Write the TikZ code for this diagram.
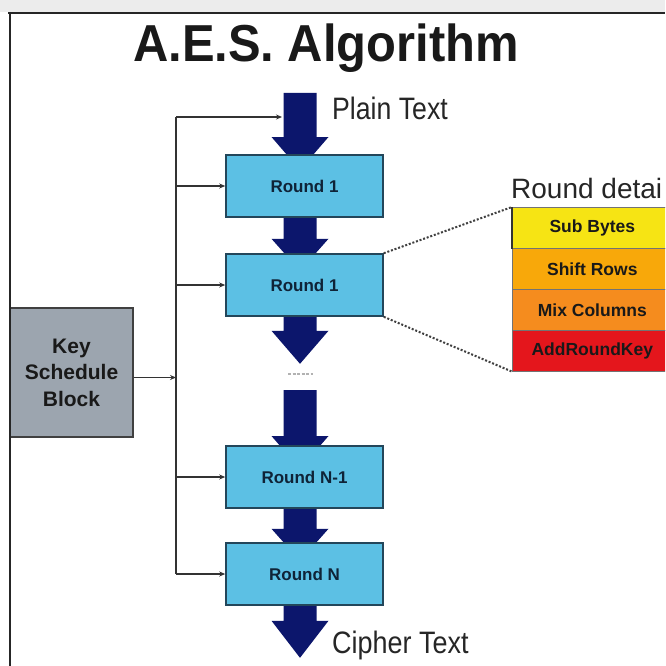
\documentclass[tikz,border=0pt]{standalone}
\usepackage{fontspec}
\setmainfont{Liberation Sans}
\usepackage{graphicx}
\usetikzlibrary{arrows.meta,calc}
\definecolor{navy}{RGB}{12,22,108}
\definecolor{roundfill}{RGB}{92,192,228}
\definecolor{roundline}{RGB}{35,70,90}
\definecolor{roundtext}{RGB}{15,35,55}
\definecolor{keyfill}{RGB}{156,165,175}
\definecolor{subyel}{RGB}{246,228,20}
\definecolor{shiftor}{RGB}{248,168,10}
\definecolor{mixor}{RGB}{245,140,30}
\definecolor{arkred}{RGB}{228,22,28}
\definecolor{hdrgray}{RGB}{236,236,236}
\pgfdeclarelayer{bg}
\pgfsetlayers{bg,main}
\begin{document}
\begin{tikzpicture}[x=1pt,y=-1pt,
  roundbox/.style={draw=roundline, line width=1.6pt, fill=roundfill, minimum width=157pt, minimum height=62pt, inner sep=0pt, font=\fontsize{17}{20}\selectfont\bfseries, text=roundtext},
  stagebox/.style={draw=black!55, line width=0.6pt, minimum width=160pt, minimum height=41pt, inner sep=0pt, anchor=north west, font=\fontsize{17.5}{20}\selectfont\bfseries, text=black!90},
  feed/.style={draw=black!80, line width=1.4pt, -{Stealth[length=6pt,width=5pt]}},
  busline/.style={draw=black!80, line width=1.4pt},
  zoomline/.style={draw=black!75, line width=2pt, dash pattern=on 2pt off 1.8pt},
  pics/barrow/.style 2 args={code={\fill[navy] (-16.5,0) -- (-16.5,#1) -- (-28.5,#1) -- (0,#1+#2) -- (28.5,#1) -- (16.5,#1) -- (16.5,0) -- cycle;}},
  biglabel/.style={inner sep=0pt, anchor=base west, font=\fontsize{31}{36}\selectfont, text=black!85}
]
\useasboundingbox (0,0) rectangle (665,666);
\clip (0,0) rectangle (665,666);

\node (title) [anchor=base, inner sep=0pt, font=\fontsize{52}{60}\selectfont\bfseries, text=black!90] at (326,62) {\scalebox{0.94}[1]{A.E.S. Algorithm}};

% round boxes
\node[roundbox] (r1) at (304.5,186) {Round 1};
\node[roundbox] (r2) at (304.5,285) {Round 1};
\node[roundbox] (r3) at (304.5,477) {Round N-1};
\node[roundbox] (r4) at (304.5,574) {Round N};

% key schedule
\node (key) [draw=black!75, line width=1.8pt, fill=keyfill, minimum width=123pt, minimum height=129pt, inner sep=0pt, align=center, font=\fontsize{21}{26.5}\selectfont\bfseries, text=black!90] at (71.5,372.5) {Key\\Schedule\\Block};

% labels
\node[biglabel] (plain) at (332,120) {\scalebox{0.86}[1]{Plain Text}};
\node[biglabel] (cipher) at (332,653) {\scalebox{0.87}[1]{Cipher Text}};
\node[biglabel, font=\fontsize{28}{34}\selectfont] (rd) at (511,198) {Round detai};

% round details stages
\node[stagebox, fill=subyel] (sb) at (512,207) {Sub Bytes};
\node[stagebox, fill=shiftor] (sr) at (512,248) {Shift Rows};
\node[stagebox, fill=mixor] (mc) at (512,289) {Mix Columns};
\node[stagebox, fill=arkred] (ark) at (512,330) {AddRoundKey};
\draw[line width=1.4pt, black!80] (sb.north west) -- (sb.south west);

% zoom lines
\draw[zoomline] (r2.north east) -- (sb.north west);
\draw[zoomline] (r2.south east) -- (ark.south west);

% block arrows (behind boxes)
\coordinate (ax) at (300,0);
\coordinate (ptop) at (300,93);
\coordinate (gapin) at (300,390);
\coordinate (gapdots) at (300,374);
\begin{pgfonlayer}{bg}
\fill[white] (0,0) rectangle (665,666);
\fill[hdrgray] (0,0) rectangle (665,12);
\pic at (ptop) {barrow={44}{33}};
\pic at (r1.south -| ax) {barrow={21}{32}};
\pic at (r2.south -| ax) {barrow={14}{33}};
\pic at (gapin) {barrow={46}{33}};
\pic at (r3.south -| ax) {barrow={20}{32}};
\pic at (r4.south -| ax) {barrow={15}{37}};
\end{pgfonlayer}
\draw[line width=2.2pt, black!85] (8,13) -- (665,13);
\draw[line width=2.2pt, black!85] (10,12) -- (10,666);
\draw[gray!60, line width=2.5pt, dash pattern=on 3pt off 1.5pt] ($(gapdots)+(-12,0)$) -- ($(gapdots)+(13,0)$);

% key distribution bus
\coordinate (bustop) at (176,117);
\coordinate (ptin) at (282,117);
\draw[busline] (bustop) -- (bustop |- r4.west);
\draw[feed] (bustop) -- (ptin);
\draw[feed] (bustop |- r1.west) -- (r1.west);
\draw[feed] (bustop |- r2.west) -- (r2.west);
\draw[feed] (bustop |- r3.west) -- (r3.west);
\draw[feed] (bustop |- r4.west) -- (r4.west);
\draw[feed] ($(key.east)+(0,5)$) -- ($(key.east -| bustop)+(0,5)$);
\end{tikzpicture}
\end{document}
